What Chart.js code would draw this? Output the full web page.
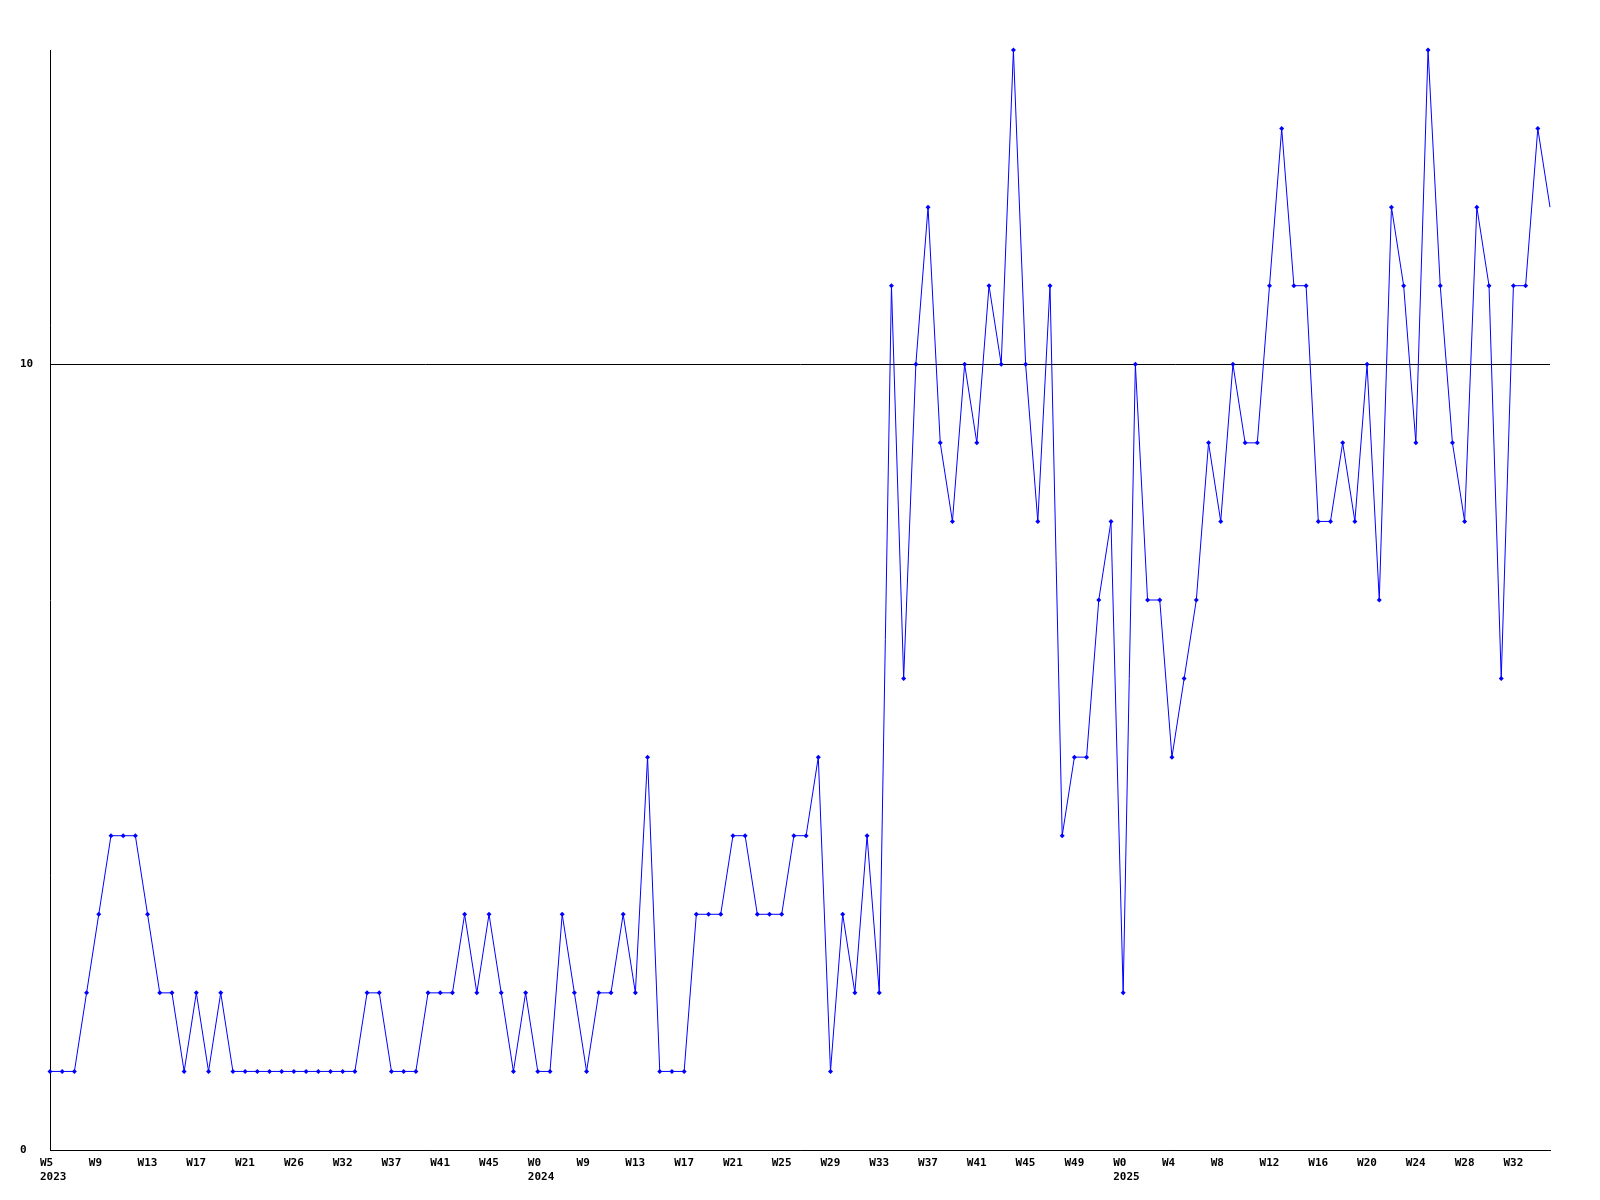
<!DOCTYPE html>
<html>
<head>
<meta charset="utf-8">
<script src="https://cdn.jsdelivr.net/npm/chart.js@4.4.1/dist/chart.umd.min.js"></script>
<style>
  html, body { margin: 0; padding: 0; background: #fff; }
  #chart { display: block; }
</style>
</head>
<body>
<canvas id="chart" width="1600" height="1200"></canvas>
<script>
// weekly counts, one per point
const counts = [
  1,1,1,2,3,4,4,4,3,2,  2,1,2,1,2,1,1,1,1,1,
  1,1,1,1,1,1,2,2,1,1,  1,2,2,2,3,2,3,2,1,2,
  1,1,3,2,1,2,2,3,2,5,  1,1,1,3,3,3,4,4,3,3,
  3,4,4,5,1,3,2,4,2,11, 6,10,12,9,8,10,9,11,10,14,
  10,8,11,4,5,5,7,8,2,10, 7,7,5,6,7,9,8,10,9,9,
  11,13,11,11,8,8,9,8,10,7, 12,11,9,14,11,9,8,12,11,6,
  11,11,13,12
];

// labels shown every 4th point
const weekTicks = ['W5','W9','W13','W17','W21','W26','W32','W37','W41','W45',
                   'W0','W9','W13','W17','W21','W25','W29','W33','W37','W41','W45','W49',
                   'W0','W4','W8','W12','W16','W20','W24','W28','W32'];
const yearTicks = { 0: '2023', 10: '2024', 22: '2025' };
const tickEvery = 4;
const yTicks = [0, 10];
const yMax = 14;

const categories = counts.map((_, i) => i);
const FONT = { family: '"DejaVu Sans Mono", "Liberation Mono", monospace', size: 11, weight: 'bold', lineHeight: 14 / 11 };

new Chart(document.getElementById('chart'), {
  type: 'line',
  data: {
    labels: categories,
    datasets: [{
      data: counts,
      borderColor: '#0000FF',
      backgroundColor: '#0000FF',
      borderWidth: 1,
      tension: 0,
      fill: false,
      clip: false,
      pointStyle: 'rectRot',
      pointRadius: (c) => c.dataIndex === counts.length - 1 ? 0 : 2.5,
      pointBorderWidth: 0,
      pointBackgroundColor: '#0000FF'
    }]
  },
  options: {
    responsive: false,
    animation: false,
    layout: { padding: { left: 20, right: 50, top: 50, bottom: 0 } },
    plugins: { legend: { display: false }, tooltip: { enabled: false } },
    scales: {
      x: {
        type: 'category',
        offset: false,
        grid: { display: false, drawTicks: false },
        border: { display: true, color: '#000', width: 1 },
        afterFit: (s) => { s.height = 50; },
        ticks: {
          autoSkip: false,
          maxRotation: 0,
          minRotation: 0,
          align: 'start',
          labelOffset: -10,
          padding: 6,
          color: '#000',
          font: FONT,
          callback: (v, i) => {
            if (i % tickEvery !== 0) return '';
            const k = i / tickEvery;
            if (k >= weekTicks.length) return '';
            return yearTicks[k] ? [weekTicks[k], yearTicks[k]] : weekTicks[k];
          }
        }
      },
      y: {
        min: 0,
        max: yMax,
        afterBuildTicks: (s) => { s.ticks = yTicks.map(v => ({ value: v })); },
        afterFit: (s) => { s.width = 30; },
        grid: { color: '#000', lineWidth: 1, drawTicks: false },
        border: { display: true, color: '#000', width: 1 },
        ticks: {
          crossAlign: 'far',
          padding: 17,
          color: '#000',
          font: FONT
        }
      }
    }
  }
});
</script>
</body>
</html>
